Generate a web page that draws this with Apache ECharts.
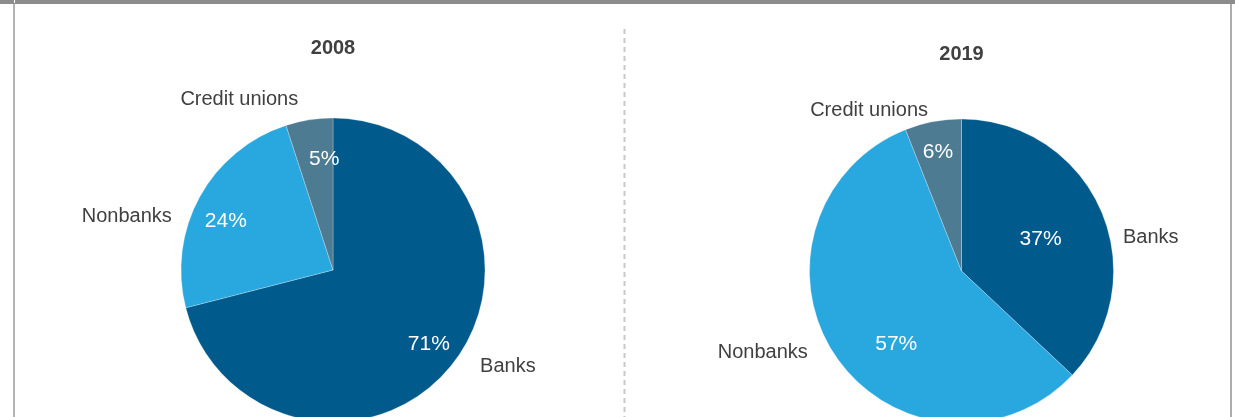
<!DOCTYPE html>
<html>
<head>
<meta charset="utf-8">
<script src="https://cdn.jsdelivr.net/npm/echarts@6/dist/echarts.min.js"></script>
<style>
html,body{margin:0;padding:0;background:#fff;}
#chart{width:1235px;height:417px;}
</style>
</head>
<body>
<div id="chart"></div>
<script>
// ---- data ----
const categories = ['Banks', 'Nonbanks', 'Credit unions'];
const years = ['2008', '2019'];
const share2008 = [71, 24, 5];
const share2019 = [37, 57, 6];

// ---- styling / layout ----
const sliceColors = ['#005a8c', '#29a8e0', '#4d7c92'];
const textColor = '#404040';
const fontFamily = '"Liberation Sans", Arial, Helvetica, sans-serif';
const pieCenters = [[333, 270], [961.5, 271]];
const pieRadius = 152;
// label nudges (text only) relative to library-computed anchor
const nameNudges = [
  [[27, 3], [-28, 20], [-11, -20]],
  [[22, 27], [-28, -4], [-5, -11]]
];
const pctNudges = [
  [[1, 1], [-2, 9], [10, 8]],
  [[-31, 16], [34, 6], [-1, -1]]
];
const titleY = [48, 54];

const chart = echarts.init(document.getElementById('chart'), null, {renderer: 'canvas'});

function buildData(values) {
  return categories.map((c, i) => ({name: c, value: values[i]}));
}

const allShares = [share2008, share2019];
const series = [];
allShares.forEach((vals, k) => {
  // slices + category name labels
  series.push({
    type: 'pie',
    center: pieCenters[k],
    radius: [0, pieRadius],
    startAngle: 90,
    clockwise: true,
    avoidLabelOverlap: false,
    silent: true,
    color: sliceColors,
    itemStyle: {borderColor: 'rgba(255,255,255,0.5)', borderWidth: 0.5},
    label: {
      show: true,
      position: 'outside',
      formatter: '{b}',
      color: textColor,
      fontFamily: fontFamily,
      fontSize: 20,
      distanceToLabelLine: 0
    },
    labelLine: {show: false, length: 0, length2: 0},
    labelLayout: function (p) {
      const n = nameNudges[k][p.dataIndex];
      return {dx: n[0], dy: n[1]};
    },
    data: buildData(vals)
  });
  // percentage labels (transparent ring so labels sit toward the rim)
  series.push({
    type: 'pie',
    center: pieCenters[k],
    radius: [82, pieRadius],
    startAngle: 90,
    clockwise: true,
    avoidLabelOverlap: false,
    silent: true,
    itemStyle: {color: 'rgba(0,0,0,0)'},
    label: {
      show: true,
      position: 'inside',
      formatter: '{c}%',
      color: '#ffffff',
      fontFamily: fontFamily,
      fontSize: 21
    },
    labelLine: {show: false},
    labelLayout: function (p) {
      const n = pctNudges[k][p.dataIndex];
      return {dx: n[0], dy: n[1]};
    },
    data: buildData(vals)
  });
});

const graphics = [
  {type: 'rect', shape: {x: 0, y: 0, width: 1235, height: 4}, style: {fill: '#8c8c8c'}, silent: true},
  {type: 'rect', shape: {x: 14, y: 0, width: 1, height: 3}, style: {fill: '#ffffff'}, silent: true},
  {type: 'rect', shape: {x: 13, y: 4, width: 2, height: 413}, style: {fill: '#b4b4b4'}, silent: true},
  {type: 'rect', shape: {x: 1230, y: 4, width: 2, height: 413}, style: {fill: '#acacac'}, silent: true},
  {type: 'line', shape: {x1: 624.5, y1: 29, x2: 624.5, y2: 417}, style: {stroke: '#c8c8c8', lineWidth: 2, lineDash: [5, 4]}, silent: true}
];
years.forEach((y, k) => {
  graphics.push({
    type: 'text',
    x: pieCenters[k][0],
    y: titleY[k],
    silent: true,
    style: {
      text: y,
      fill: textColor,
      font: 'bold 20px ' + fontFamily,
      textAlign: 'center',
      textVerticalAlign: 'middle'
    }
  });
});

chart.setOption({
  backgroundColor: '#ffffff',
  animation: false,
  graphic: graphics,
  series: series
});
</script>
</body>
</html>
